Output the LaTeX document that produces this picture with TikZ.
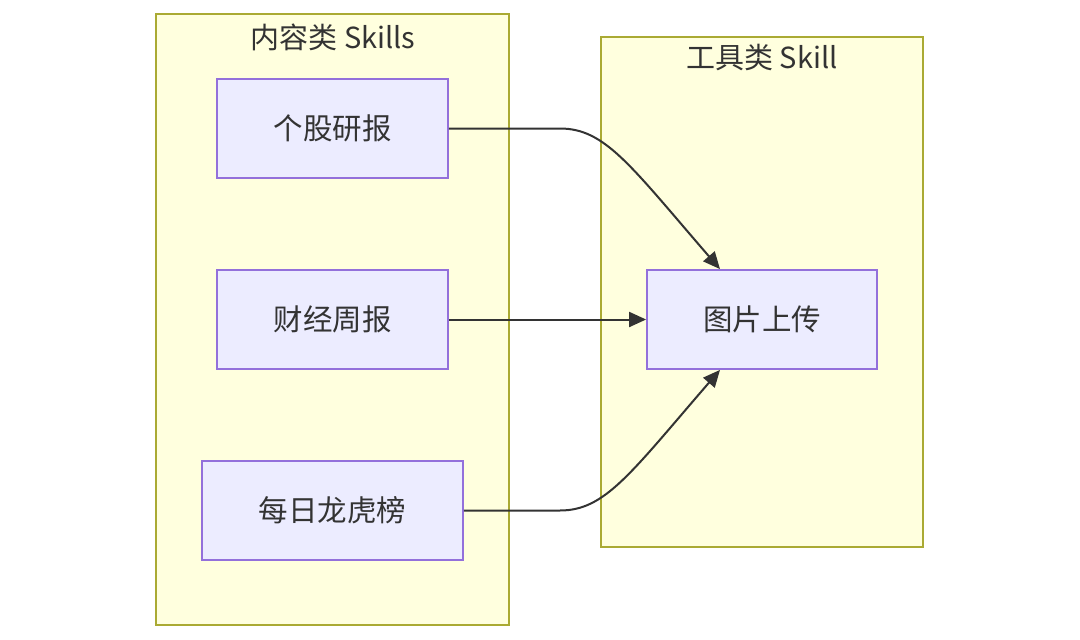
\documentclass[tikz,border=0pt]{standalone}
\usepackage{fontspec}
\setmainfont{Noto Sans CJK SC}
\usetikzlibrary{arrows.meta}
\definecolor{clusterfill}{HTML}{FFFFDE}
\definecolor{clusterline}{HTML}{AAAA33}
\definecolor{boxfill}{HTML}{ECECFF}
\definecolor{boxline}{HTML}{9370DB}
\definecolor{ink}{HTML}{333333}
\tikzset{
  group/.style={draw=clusterline, fill=clusterfill, line width=1.8pt},
  grouptitle/.style={text=ink, font=\fontsize{29}{33}\selectfont, inner sep=0pt},
  skillbox/.style={draw=boxline, fill=boxfill, line width=1.8pt, text=ink,
    font=\fontsize{29.5}{34}\selectfont, inner sep=0pt, minimum height=99pt},
  link/.style={draw=ink, line width=2pt, -{Triangle[length=17pt,width=15pt]}}
}
\begin{document}
\begin{tikzpicture}[x=1pt,y=-1pt]
\useasboundingbox (0,0) rectangle (1080,640);
\fill[white] (0,0) rectangle (1080,640);
% groups
\draw[group] (156,14) rectangle (509,625);
\node[grouptitle] (contentT) at (333,37) {内容类 Skills};
\draw[group] (601,37) rectangle (923,547);
\node[grouptitle] (toolT) at (762,58) {工具类 Skill};
% skill boxes
\node[skillbox, minimum width=231pt] (report) at (332.5,128.5) {个股研报};
\node[skillbox, minimum width=231pt] (weekly) at (332.5,319.5) {财经周报};
\node[skillbox, minimum width=261pt] (dragon) at (332.5,510.5) {每日龙虎榜};
\node[skillbox, minimum width=230pt] (upload) at (762,319.5) {图片上传};
% connectors
\coordinate (a1) at (560,128.5);
\coordinate (a3) at (560,510.5);
\draw[link] (report.east) -- (a1) .. controls (605,128.5) and (630,165) .. (upload.north -| 720,0);
\draw[link] (weekly.east) -- (upload.west);
\draw[link] (dragon.east) -- (a3) .. controls (605,510.5) and (630,474) .. (upload.south -| 720,0);
\end{tikzpicture}
\end{document}
